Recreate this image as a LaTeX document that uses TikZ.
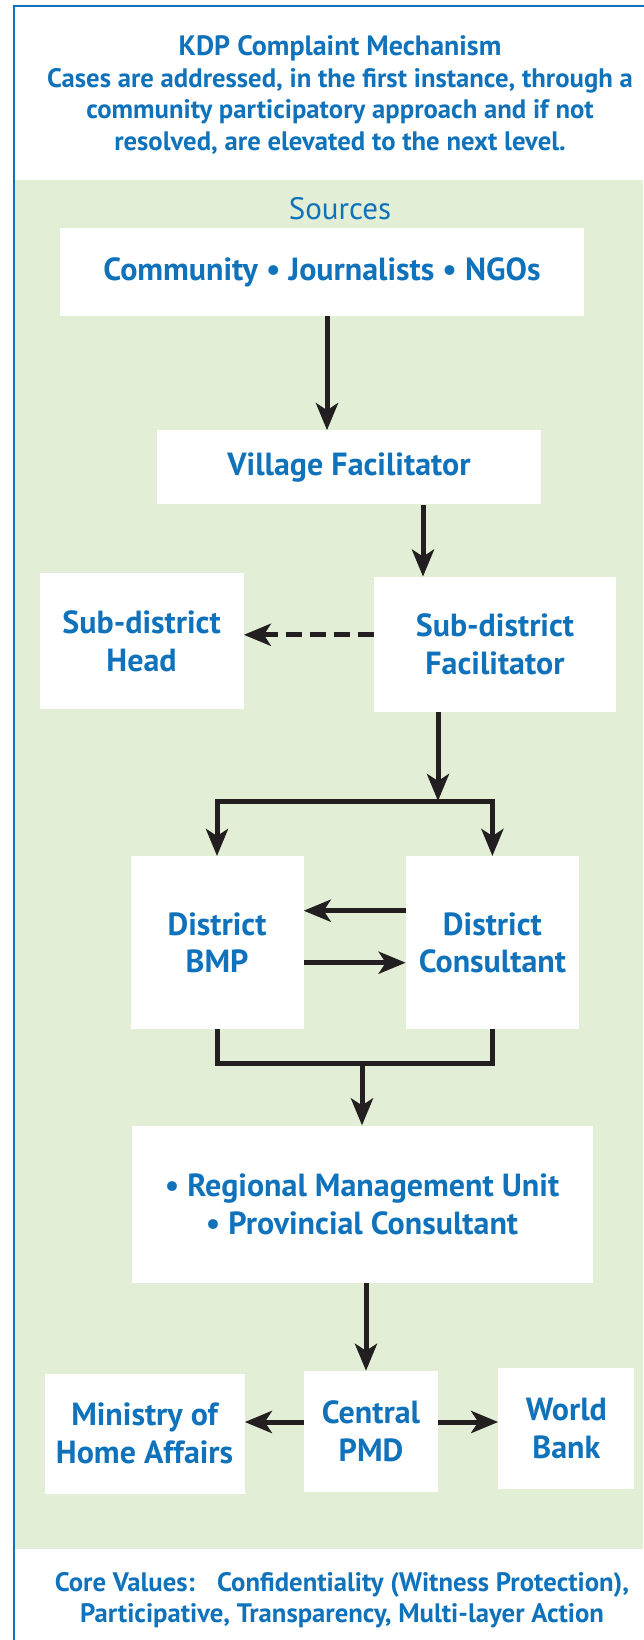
\documentclass[tikz,border=0pt]{standalone}
\usepackage{fontspec}
\setmainfont{PT Sans}
\usetikzlibrary{arrows.meta, positioning}
\definecolor{kdpblue}{RGB}{16,114,186}
\definecolor{kdpgreen}{RGB}{226,239,214}
\definecolor{kdpink}{RGB}{35,31,32}

\begin{document}
\begin{tikzpicture}[
    x=1pt, y=1pt,
    box/.style={rectangle, fill=white, inner sep=0pt, align=center, text=kdpblue, font=\fontsize{32}{37.6}\selectfont\bfseries},
    heading/.style={align=center, text=kdpblue, font=\fontsize{26.7}{31.5}\selectfont\bfseries},
    srctitle/.style={text=kdpblue, font=\fontsize{31}{36}\selectfont},
    link/.style={line width=5pt, draw=kdpink, line join=miter},
    arrow/.style={link, -{Stealth[length=27pt, width=22pt, inset=7pt]}},
    fork/.style={link, {Stealth[length=27pt, width=22pt, inset=7pt]}-{Stealth[length=27pt, width=22pt, inset=7pt]}},
    dasharrow/.style={arrow, dash pattern=on 16pt off 8pt}
]
    \useasboundingbox (0,0) rectangle (643,-1640);

    % --- Background ---
    \fill[kdpgreen] (15,-180) rectangle (643,-1549);
    \draw[line width=2.5pt, draw=kdpblue] (660,-6) -- (14,-6) -- (14,-1660);

    % --- Header and footer ---
    \node[heading] (title) at (340,-95) {{\fontsize{28}{31.5}\selectfont KDP Complaint Mechanism}\\ Cases are addressed, in the first instance, through a\\ community participatory approach and if not\\ resolved, are elevated to the next level.};
    \node[heading] (values) at (342,-1600) {Core Values:\hspace{0.5em} Confidentiality (Witness Protection),\\ Participative, Transparency, Multi-layer Action};

    % --- Nodes ---
    \node[box, minimum width=524pt, minimum height=88pt] (community) at (322,-272) {Community • Journalists • NGOs};
    \node[srctitle] (sources) at (340,-209) {Sources};

    \node[box, minimum width=384pt, minimum height=74pt, below=114pt of community, xshift=27pt] (village) {Village Facilitator};
    \node[box, minimum width=242pt, minimum height=135pt, below=72pt of village, xshift=146pt] (sdfac) {Sub-district\\ Facilitator};
    \node[box, minimum width=204pt, minimum height=136pt, left=130pt of sdfac, yshift=3pt] (sdhead) {Sub-district\\ Head};

    % District level
    \node[box, minimum width=173pt, minimum height=173pt, below=144pt of sdfac, xshift=-278pt] (bmp) {District\\ BMP};
    \node[box, minimum width=173pt, minimum height=173pt, right=102pt of bmp] (consultant) {District\\ Consultant};

    % Regional and central level
    \node[box, minimum width=461pt, minimum height=157pt, below=96pt of bmp, xshift=145pt] (rmu) {• Regional Management Unit\\ • Provincial Consultant};
    \node[box, minimum width=134pt, minimum height=121pt, below=88pt of rmu, xshift=9pt] (pmd) {Central\\ PMD};
    \node[box, minimum width=200pt, minimum height=120pt, left=59pt of pmd, yshift=-2pt] (moha) {Ministry of\\ Home Affairs};
    \node[box, minimum width=136pt, minimum height=121pt, right=60pt of pmd, yshift=3pt] (wb) {World\\ Bank};

    % --- Connections ---
    \draw[arrow] ([xshift=5pt]community.south) -- ([xshift=5pt]community.south |- village.north);
    \draw[arrow] ([xshift=74pt]village.south) -- ([xshift=74pt]village.south |- sdfac.north);
    \draw[dasharrow] ([yshift=9.5pt]sdfac.west) -- ([yshift=9.5pt]sdfac.west -| sdhead.east);

    \coordinate (forkL) at ([yshift=55pt]bmp.north);
    \coordinate (forkR) at ([yshift=55pt]consultant.north);
    \draw[arrow] ([xshift=-57pt]sdfac.south) -- ([xshift=-57pt]sdfac.south |- forkL);
    \draw[fork] (bmp.north) -- (forkL) -- (forkR) -- (consultant.north);

    \draw[arrow] ([yshift=32pt]consultant.west) -- ([yshift=32pt]bmp.east);
    \draw[arrow] ([yshift=-20pt]bmp.east) -- ([yshift=-20pt]consultant.west);

    \coordinate (merge) at ([yshift=-34pt]bmp.south);
    \draw[link] (bmp.south) -- (merge) -| (consultant.south);
    \draw[arrow] (merge -| rmu.north) -- (rmu.north);

    \draw[arrow] ([xshift=4pt]rmu.south) -- ([xshift=4pt]rmu.south |- pmd.north);
    \draw[arrow] ([yshift=9.5pt]pmd.west) -- ([yshift=9.5pt]pmd.west -| moha.east);
    \draw[arrow] ([yshift=9.5pt]pmd.east) -- ([yshift=9.5pt]pmd.east -| wb.west);

\end{tikzpicture}
\end{document}
